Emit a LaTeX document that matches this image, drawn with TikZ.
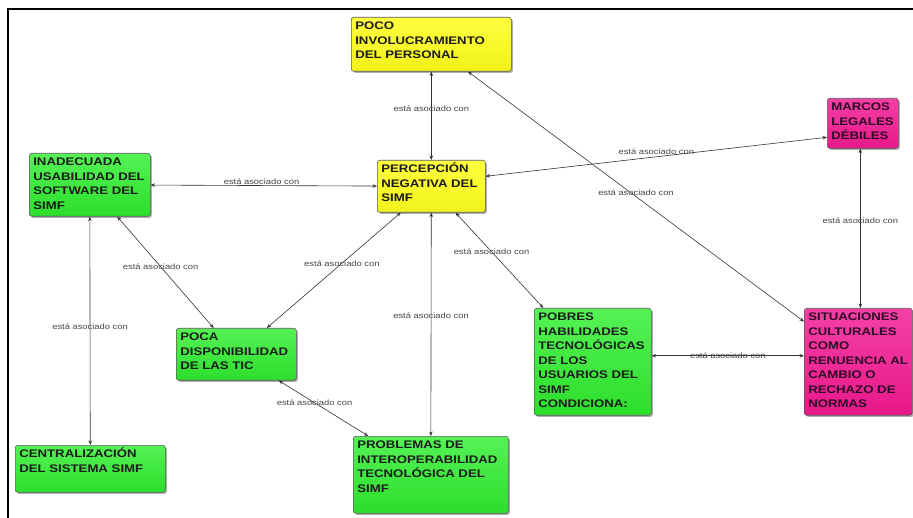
\documentclass[tikz,border=0pt]{standalone}
\usepackage{fontspec}
\usetikzlibrary{arrows.meta,shadows}

% Typefaces for concept boxes and linking phrases
\newfontfamily\conceptfont[FakeStretch=1.2]{Liberation Sans}
\newfontfamily\linkfont[FakeStretch=1.2]{Liberation Sans}

% Fixed-size, top-aligned text block for a concept
\newcommand\cpt[3]{\parbox[c][#2][t]{#1}{\raggedright\rule{0pt}{12.5pt}#3}}

\definecolor{yelTop}{HTML}{FFFF40}
\definecolor{yelBot}{HTML}{F2F21A}
\definecolor{grnTop}{HTML}{55F255}
\definecolor{grnBot}{HTML}{2CDE2C}
\definecolor{pnkTop}{HTML}{F440A6}
\definecolor{pnkBot}{HTML}{E8188A}
\definecolor{boxEdge}{HTML}{5A5A5A}
\definecolor{linkLine}{HTML}{333333}
\definecolor{linkText}{HTML}{444444}
\definecolor{darkText}{HTML}{1C1C1C}
\definecolor{pinkText}{HTML}{2E0A24}

\tikzset{
  concept/.style={rectangle, rounded corners=2.5pt, draw=boxEdge, line width=0.6pt,
    anchor=north west, inner xsep=4pt, inner ysep=0pt, text=darkText,
    font=\conceptfont\bfseries\fontsize{11}{14.5}\selectfont,
    drop shadow={shadow xshift=1.6pt, shadow yshift=-1.6pt, opacity=0.45, fill=black!70}},
  yelbox/.style={concept, top color=yelTop, bottom color=yelBot},
  grnbox/.style={concept, top color=grnTop, bottom color=grnBot},
  pnkbox/.style={concept, top color=pnkTop, bottom color=pnkBot, text=pinkText},
  link/.style={draw=linkLine, line width=0.6pt,
    {Stealth[length=4.5pt,width=3.5pt]}-{Stealth[length=4.5pt,width=3.5pt]}},
  phrase/.style={font=\linkfont\fontsize{7.8}{9}\selectfont, text=linkText, inner sep=1pt},
  frameline/.style={line width=2pt, black}
}

\begin{document}
\begin{tikzpicture}[x=1pt, y=-1pt]
  \useasboundingbox (0,0) rectangle (913,518);

  % outer frame (top and left edges)
  \coordinate (frameBL) at (8.3,518);
  \coordinate (frameTL) at (8.3,9.3);
  \coordinate (frameTR) at (913,9.3);
  \draw[frameline] (frameBL) -- (frameTL) -- (frameTR);

  % concepts
  \node[yelbox] (poco)   at (351,17)  {\cpt{152pt}{54pt}{POCO\\INVOLUCRAMIENTO\\DEL PERSONAL}};
  \node[grnbox] (inad)   at (29,153)  {\cpt{113pt}{63pt}{INADECUADA\\USABILIDAD DEL\\SOFTWARE DEL\\SIMF}};
  \node[yelbox] (perc)   at (377,160) {\cpt{100pt}{52pt}{PERCEPCIÓN\\NEGATIVA DEL\\SIMF}};
  \node[pnkbox] (marcos) at (827,98)  {\cpt{63pt}{50pt}{MARCOS\\LEGALES\\DÉBILES}};
  \node[pnkbox] (sit)    at (804,308) {\cpt{100pt}{107pt}{SITUACIONES\\CULTURALES\\COMO\\RENUENCIA AL\\CAMBIO O\\RECHAZO DE\\NORMAS}};
  \node[grnbox] (pobres) at (534,308) {\cpt{109pt}{107pt}{POBRES\\HABILIDADES\\TECNOLÓGICAS\\DE LOS\\USUARIOS DEL\\SIMF\\CONDICIONA:}};
  \node[grnbox] (poca)   at (176,328) {\cpt{112pt}{52pt}{POCA\\DISPONIBILIDAD\\DE LAS TIC}};
  \node[grnbox] (centr)  at (15,445)  {\cpt{142pt}{47pt}{CENTRALIZACIÓN\\DEL SISTEMA SIMF}};
  \node[grnbox] (probl)  at (353,436) {\cpt{147pt}{77pt}{PROBLEMAS DE\\INTEROPERABILIDAD\\TECNOLÓGICA DEL\\SIMF}};

  % links
  \draw[link] (poco) -- node[phrase, pos=0.42] {está asociado con} (perc);
  \draw[link] (poco) -- node[phrase, pos=0.5, yshift=4pt] {está asociado con} (sit);
  \draw[link] ([yshift=10pt]perc.east) -- node[phrase, pos=0.5, yshift=5pt] {está asociado con} ([yshift=-14pt]marcos.west);
  \draw[link] (inad) -- node[phrase, pos=0.49, above] {está asociado con} (perc);
  \draw[link] ([xshift=-2.5pt]marcos.south) -- node[phrase, pos=0.45] {está asociado con} ([xshift=2pt]sit.north);
  \draw[link] (inad) -- node[phrase, pos=0.48] {está asociado con} (centr);
  \draw[link] (inad) -- node[phrase, pos=0.45] {está asociado con} (poca);
  \draw[link] (perc) -- node[phrase, pos=0.44] {está asociado con} (poca);
  \draw[link] (perc) -- node[phrase, pos=0.46] {está asociado con} (probl);
  \draw[link] (perc) -- node[phrase, pos=0.41] {está asociado con} (pobres);
  \draw[link] (poca) -- node[phrase, pos=0.4] {está asociado con} (probl);
  \draw[link] ([yshift=6pt]pobres.east) -- node[phrase, pos=0.5] {está asociado con} ([yshift=6pt]sit.west);
\end{tikzpicture}
\end{document}
